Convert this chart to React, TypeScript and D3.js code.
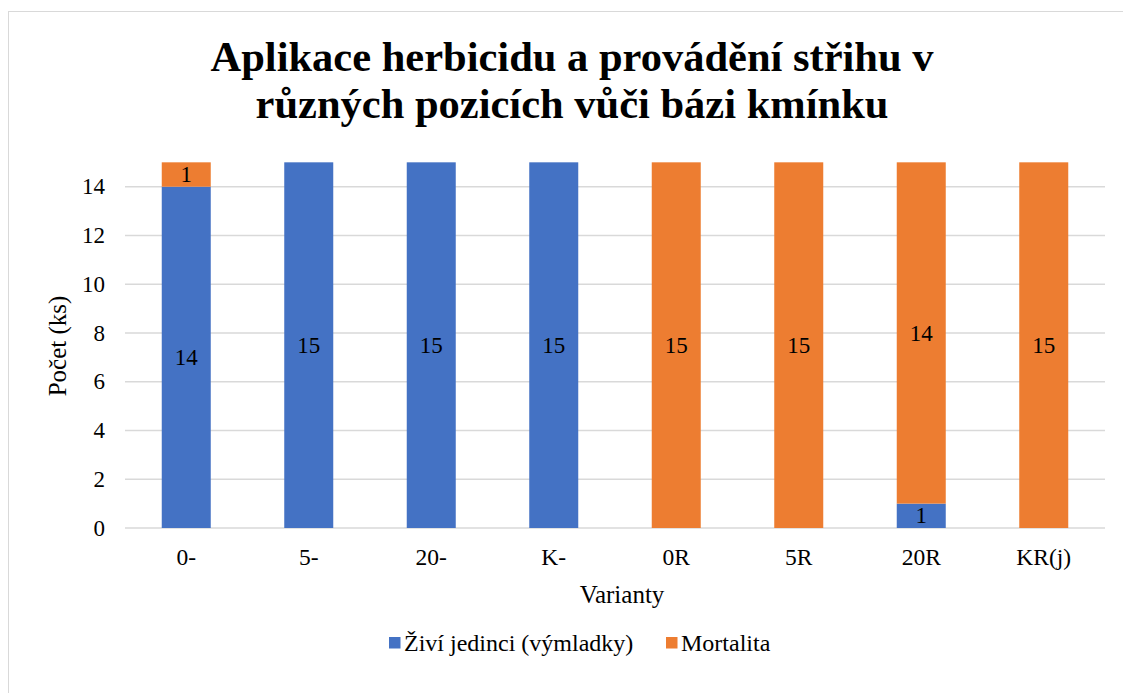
import { scaleBand, scaleLinear, stack } from "d3";

const categories = ["0-", "5-", "20-", "K-", "0R", "5R", "20R", "KR(j)"];
const alive = [14, 15, 15, 15, 0, 0, 1, 0];
const mortality = [1, 0, 0, 0, 15, 15, 14, 15];
const seriesNames = ["Živí jedinci (výmladky)", "Mortalita"];
const seriesColors = ["#4472C4", "#ED7D31"];
const yTicks = [0, 2, 4, 6, 8, 10, 12, 14];
const titleLines = [
  "Aplikace herbicidu a provádění střihu v",
  "různých pozicích vůči bázi kmínku",
];

const W = 1123;
const H = 693;
const font = { fontFamily: "Liberation Serif" };

export default function App() {
  const x = scaleBand<string>().domain(categories).range([125, 1105]).paddingInner(0.6).paddingOuter(0.3);
  const y = scaleLinear().domain([0, 14]).range([528, 186.7]);

  const rows = categories.map((c, i) => ({ cat: c, s0: alive[i], s1: mortality[i] }));
  const layers = stack<{ cat: string; s0: number; s1: number }>().keys(["s0", "s1"])(rows);

  return (
    <svg width={W} height={H} style={{ position: "absolute", left: 0, top: 0 }}>
      <rect x={0} y={0} width={W} height={H} fill="#fff" />
      <rect x={8.5} y={11.5} width={1130} height={700} fill="none" stroke="#d9d9d9" />
      {titleLines.map((t, i) => (
        <text key={t} x={572} y={71 + i * 47} textAnchor="middle" style={font} fontWeight="bold" fontSize={42.5}>
          {t}
        </text>
      ))}
      {yTicks.map((t) => (
        <g key={t}>
          <line x1={125} x2={1105} y1={y(t)} y2={y(t)} stroke="#d9d9d9" strokeWidth={1.5} />
          <text x={105} y={y(t)} dy="0.33em" textAnchor="end" style={font} fontSize={23}>
            {t}
          </text>
        </g>
      ))}
      {layers.map((layer, li) =>
        layer.map((d) => {
          const v = d[1] - d[0];
          if (v <= 0) return null;
          const bx = x(d.data.cat) ?? 0;
          return (
            <g key={li + d.data.cat}>
              <rect x={bx} width={x.bandwidth()} y={y(d[1])} height={y(d[0]) - y(d[1])} fill={seriesColors[li]} />
              <text
                x={bx + x.bandwidth() / 2}
                y={(y(d[0]) + y(d[1])) / 2}
                dy="0.33em"
                textAnchor="middle"
                style={font}
                fontSize={23}
              >
                {v}
              </text>
            </g>
          );
        })
      )}
      {categories.map((c) => (
        <text key={c} x={(x(c) ?? 0) + x.bandwidth() / 2} y={565} textAnchor="middle" style={font} fontSize={23.5}>
          {c}
        </text>
      ))}
      <text x={622} y={603} textAnchor="middle" style={font} fontSize={25}>
        Varianty
      </text>
      <text transform="translate(66,346) rotate(-90)" textAnchor="middle" style={font} fontSize={25}>
        Počet (ks)
      </text>
      {seriesNames.map((n, i) => {
        const lx = [389, 666][i];
        return (
          <g key={n}>
            <rect x={lx} y={637} width={11.5} height={11.5} fill={seriesColors[i]} />
            <text x={lx + 15} y={651} style={font} fontSize={24}>
              {n}
            </text>
          </g>
        );
      })}
    </svg>
  );
}
